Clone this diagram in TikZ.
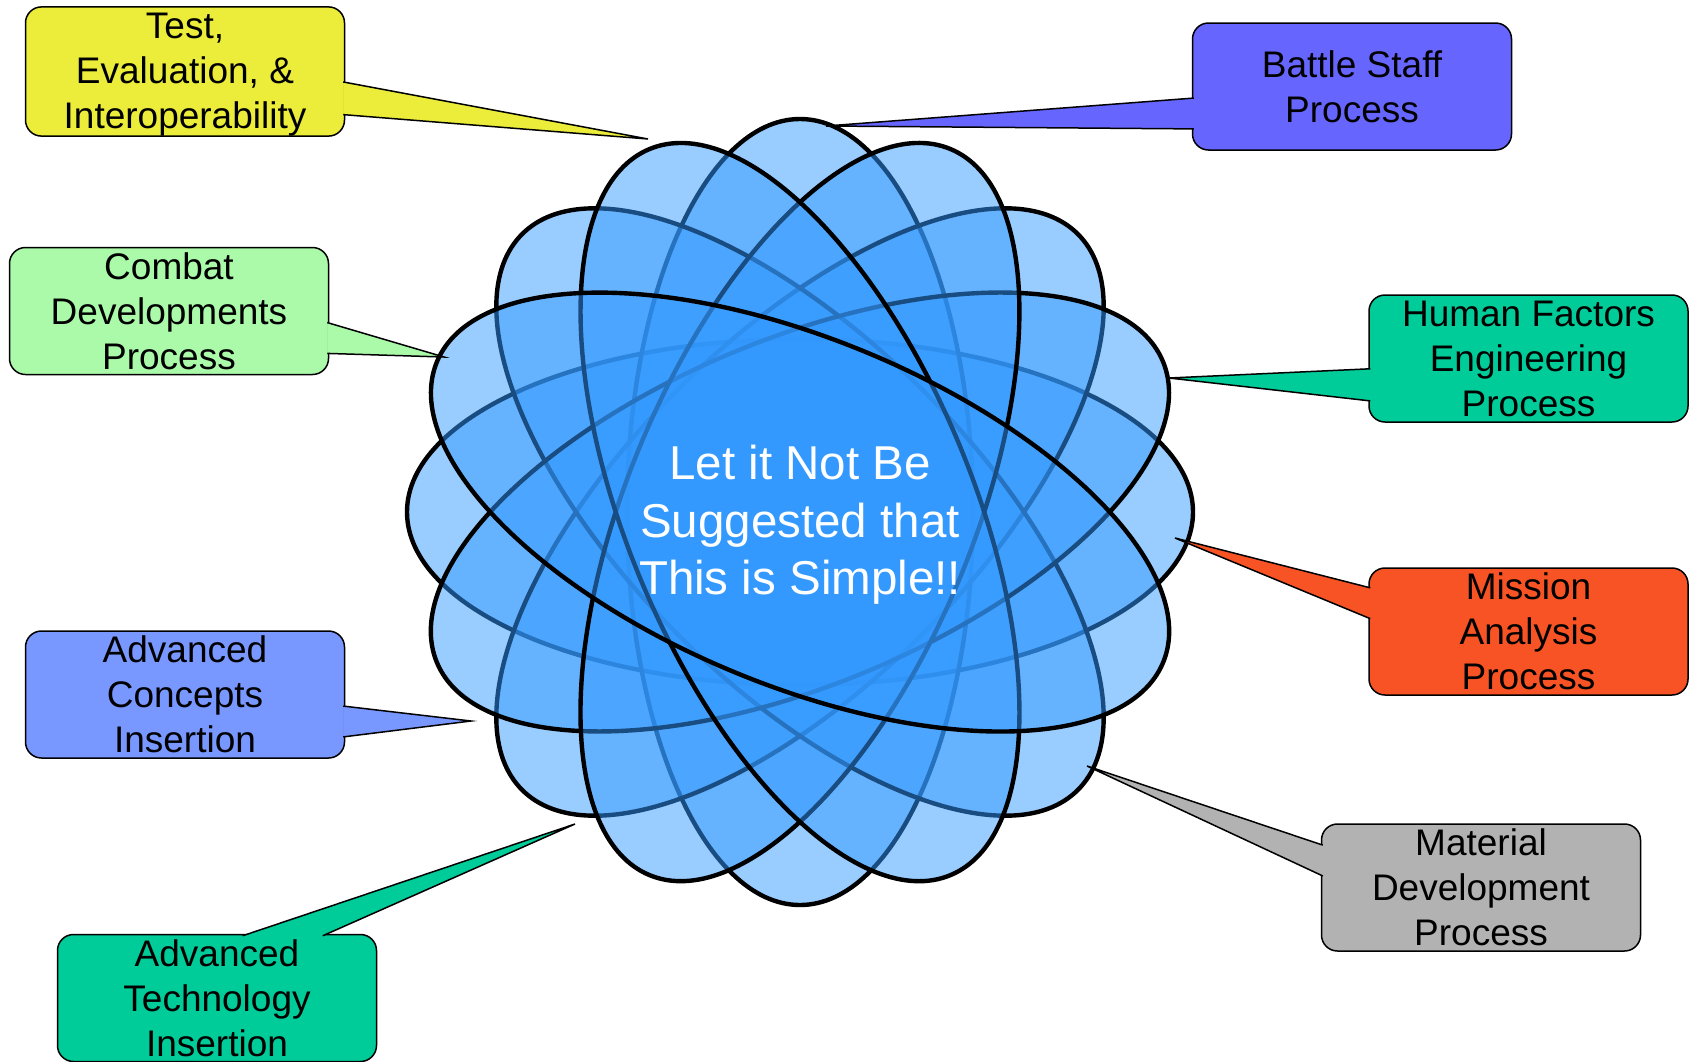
\documentclass[tikz,border=0pt]{standalone}
\usepackage{fontspec}
\setmainfont{Liberation Sans}
\usetikzlibrary{calc}
\definecolor{petalblue}{RGB}{51,153,255}
\definecolor{teiyellow}{RGB}{235,237,58}
\definecolor{staffblue}{RGB}{102,102,255}
\definecolor{combatgreen}{RGB}{170,250,170}
\definecolor{factorteal}{RGB}{0,204,153}
\definecolor{missionred}{RGB}{248,83,36}
\definecolor{conceptblue}{RGB}{120,152,255}
\definecolor{materialgray}{RGB}{178,178,178}

\newcommand\boxtext[1]{\rule{0pt}{31.5pt}#1\rule[-5pt]{0pt}{0pt}}
\newcommand\pointer[4]{%
  \fill[#1] (#2) -- (#4) -- (#3) -- cycle;
  \draw[tipline] (#2) -- (#4) -- (#3);
}

\begin{document}
\begin{tikzpicture}[
  x=1pt, y=-1pt,
  petal/.style={fill=petalblue, fill opacity=0.5, draw=black, line width=4.4pt},
  callout/.style={draw=black, line width=1.5pt, rounded corners=16pt,
    minimum width=319pt, minimum height=127pt, inner sep=0pt,
    align=center, font=\fontsize{37}{45}\selectfont},
  tipline/.style={draw=black, line width=1.5pt}
  ]
  \useasboundingbox (0,0) rectangle (1696,1061);
  \coordinate (hub) at (800,512);
  \foreach \a in {0,90,45,135,22.5,67.5,112.5,157.5} {
    \draw[petal, rotate around={\a:(hub)}] (hub) ellipse [x radius=393, y radius=173];
  }
  \node[text=white, align=center, font=\fontsize{47.5}{57.5}\selectfont] (motto) at (800,525)
    {Let it Not Be\\Suggested that\\This is Simple!!};

  \node[callout, fill=teiyellow] (tei) at (185,71.5) {\boxtext{Test,\\Evaluation, \&\\Interoperability}};
  \node[callout, fill=staffblue] (staff) at (1352,86.5) {\boxtext{Battle Staff\\Process}};
  \node[callout, fill=combatgreen] (combat) at (169,311) {\boxtext{Combat\\Developments\\Process}};
  \node[callout, fill=factorteal] (factors) at (1528.5,358.5) {\boxtext{Human Factors\\Engineering\\Process}};
  \node[callout, fill=missionred] (mission) at (1528.5,631.5) {\boxtext{Mission\\Analysis\\Process}};
  \node[callout, fill=conceptblue] (concepts) at (185,694.5) {\boxtext{Advanced\\Concepts\\Insertion}};
  \node[callout, fill=materialgray] (material) at (1481,887.5) {\boxtext{Material\\Development\\Process}};
  \node[callout, fill=factorteal] (tech) at (217,998) {\boxtext{Advanced\\Technology\\Insertion}};

  \coordinate (teitip) at (648,139);
  \coordinate (stafftip) at (826,126);
  \coordinate (combattip) at (444,357);
  \coordinate (factorstip) at (1169,378);
  \coordinate (missiontip) at (1175,538);
  \coordinate (conceptstip) at (471,721);
  \coordinate (materialtip) at (1087,766);
  \coordinate (techtip) at (575,824);

  \pointer{teiyellow}{$(tei.north east)!.58!(tei.south east)+(-2,0)$}{$(tei.north east)!.83!(tei.south east)+(-2,0)$}{teitip}
  \pointer{staffblue}{$(staff.north west)!.59!(staff.south west)+(2,0)$}{$(staff.north west)!.83!(staff.south west)+(2,0)$}{stafftip}
  \pointer{combatgreen}{$(combat.north east)!.59!(combat.south east)+(-2,0)$}{$(combat.north east)!.83!(combat.south east)+(-2,0)$}{combattip}
  \pointer{factorteal}{$(factors.north west)!.58!(factors.south west)+(2,0)$}{$(factors.north west)!.83!(factors.south west)+(2,0)$}{factorstip}
  \pointer{missionred}{$(mission.north west)!.16!(mission.south west)+(2,0)$}{$(mission.north west)!.40!(mission.south west)+(2,0)$}{missiontip}
  \pointer{conceptblue}{$(concepts.north east)!.59!(concepts.south east)+(-2,0)$}{$(concepts.north east)!.83!(concepts.south east)+(-2,0)$}{conceptstip}
  \pointer{materialgray}{$(material.north west)!.17!(material.south west)+(2,0)$}{$(material.north west)!.41!(material.south west)+(2,0)$}{materialtip}
  \pointer{factorteal}{$(tech.north west)!.58!(tech.north east)+(0,2)$}{$(tech.north west)!.83!(tech.north east)+(0,2)$}{techtip}
\end{tikzpicture}
\end{document}
